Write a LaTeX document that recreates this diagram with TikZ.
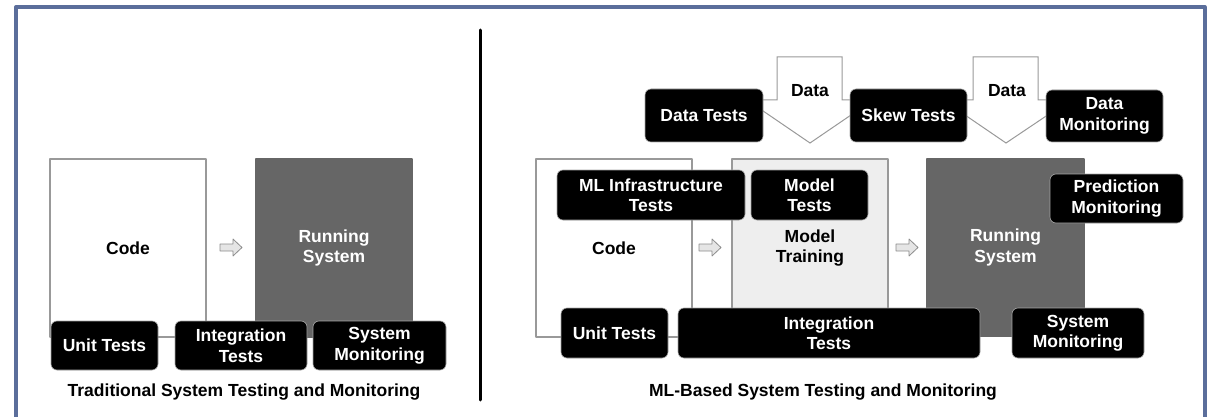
\documentclass[tikz,border=0pt]{standalone}
\usepackage{fontspec}
\setmainfont{Liberation Sans}
\definecolor{framecol}{RGB}{91,110,155}
\definecolor{rungray}{RGB}{102,102,102}
\definecolor{traingray}{RGB}{238,238,238}
\tikzset{
  bigbox/.style={draw=gray!80,line width=1.2pt,inner sep=0pt,
    font=\fontsize{17.5}{20.5}\selectfont\bfseries,align=center},
  testbox/.style={fill=black,draw=gray!70,line width=0.6pt,rounded corners=6pt,
    inner sep=0pt,text=white,font=\fontsize{17.5}{20.5}\selectfont\bfseries,align=center},
  caption/.style={font=\fontsize{17.5}{20.5}\selectfont\bfseries},
  smallarrow/.style={draw=gray!90,fill=gray!20,line width=0.8pt,line join=round},
  dataarrow/.style={draw=gray!80,fill=white,line width=1pt,line join=miter}
}
\begin{document}
\begin{tikzpicture}[x=1pt,y=-1pt,line cap=round,line join=round]
  \useasboundingbox (0,0) rectangle (1207,417);
  % frame and divider
  \draw[framecol,line width=4pt,line cap=butt] (16,430) -- (16,7) -- (1204.5,7) -- (1204.5,430);
  \draw[line width=3pt] (480,30) -- (480,400);

  % traditional system
  \node[bigbox,minimum width=156,minimum height=178] (codeL) at (128,248) {Code};
  \node[bigbox,fill=rungray,draw=rungray,text=white,minimum width=156,minimum height=178] (runL) at (334,248) {Running\\System};
  \draw[smallarrow] (220,244) -- (233,244) -- (233,239) -- (242,247.5) -- (233,256) -- (233,251) -- (220,251) -- cycle;
  \node[testbox,minimum width=107,minimum height=49] (unitL) at (104.5,345.5) {Unit Tests};
  \node[testbox,minimum width=132,minimum height=49] (integL) at (241,345.5) {Integration\\Tests};
  \node[testbox,minimum width=133,minimum height=49] (sysL) at (379.5,345.5) {System\\Monitoring};
  \node[caption] (capL) at (244,392) {Traditional System Testing and Monitoring};

  % ML-based system
  \draw[dataarrow] (777,57) -- (842,57) -- (842,100) -- (873,100) -- (810,143) -- (747,100) -- (777,100) -- cycle;
  \draw[dataarrow] (973,57) -- (1038,57) -- (1038,100) -- (1070,100) -- (1006,143) -- (943,100) -- (973,100) -- cycle;
  \node[caption] (dataA) at (810,91) {Data};
  \node[caption] (dataB) at (1007,91) {Data};

  \node[bigbox,minimum width=156,minimum height=178] (codeR) at (614,248) {Code};
  \node[bigbox,fill=traingray,minimum width=156,minimum height=178] (trainR) at (810,248) {Model\\Training};
  \node[bigbox,fill=rungray,draw=rungray,text=white,minimum width=157,minimum height=177] (runR) at (1005.5,247.5) {Running\\System};
  \draw[smallarrow] (699,244) -- (712,244) -- (712,239) -- (721,247.5) -- (712,256) -- (712,251) -- (699,251) -- cycle;
  \draw[smallarrow] (896,244) -- (909,244) -- (909,239) -- (918,247.5) -- (909,256) -- (909,251) -- (896,251) -- cycle;

  \node[testbox,minimum width=118,minimum height=53] (dataTests) at (704,115.5) {Data Tests};
  \node[testbox,minimum width=117,minimum height=53] (skewTests) at (908.5,115.5) {Skew Tests};
  \node[testbox,minimum width=117,minimum height=52] (dataMon) at (1104.5,116) {Data\\Monitoring};
  \node[testbox,minimum width=188,minimum height=50] (infraTests) at (651,195) {ML Infrastructure\\Tests};
  \node[testbox,minimum width=117,minimum height=50] (modelTests) at (809.5,195) {Model\\Tests};
  \node[testbox,minimum width=133,minimum height=49] (predMon) at (1116.5,198.5) {Prediction\\Monitoring};
  \node[testbox,minimum width=107,minimum height=50] (unitR) at (614.5,333) {Unit Tests};
  \node[testbox,minimum width=302,minimum height=50] (integR) at (829,333) {Integration\\Tests};
  \node[testbox,minimum width=132,minimum height=50] (sysR) at (1078,333) {System\\Monitoring};
  \node[caption] (capR) at (823,392) {ML-Based System Testing and Monitoring};
\end{tikzpicture}
\end{document}
